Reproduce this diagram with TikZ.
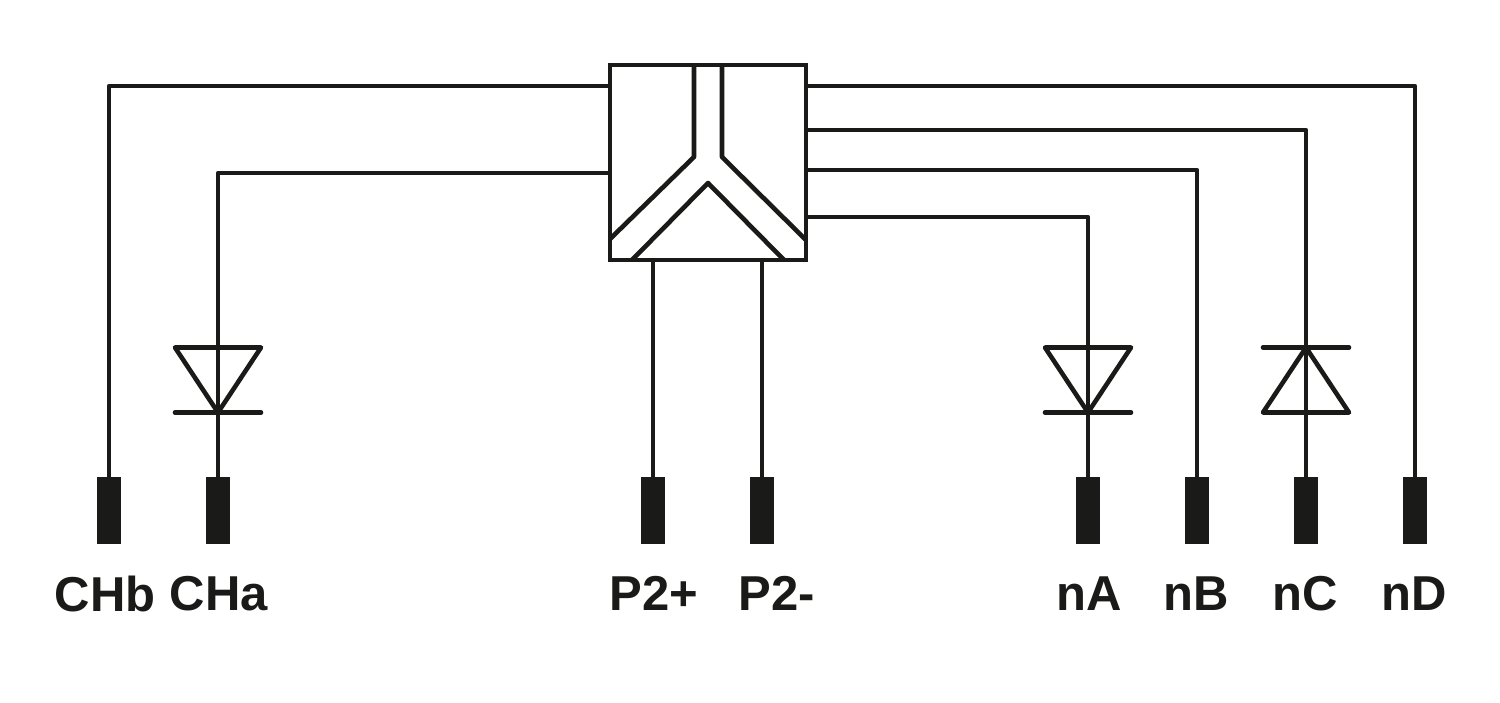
\documentclass[tikz,border=0pt]{standalone}
\usepackage{fontspec}
\setmainfont{Liberation Sans}
\usepackage{xcolor}
\usepackage{tikz}
\definecolor{inkblack}{HTML}{1A1A18}

\begin{document}
\begin{tikzpicture}[x=1pt, y=-1pt, node distance=83pt, auto]
		% Define styles with simple colors
		\tikzstyle{wire} = [line width=4.6pt, draw=inkblack, line join=round]
		\tikzstyle{symbol} = [line width=4.6pt, draw=inkblack, line join=round, line cap=round]
		\tikzstyle{coupler} = [rectangle, minimum width=196pt, minimum height=195pt, inner sep=0pt, line width=4.6pt, draw=inkblack, fill=white]
		\tikzstyle{terminal} = [rectangle, minimum width=24pt, minimum height=67pt, inner sep=0pt, fill=inkblack]
		\tikzstyle{pinlabel} = [inner sep=0pt, text=inkblack, font=\fontsize{49}{52}\selectfont\bfseries]

		\useasboundingbox (0,0) rectangle (1500,703);

		% Terminals
		\node[terminal] (chb) at (109,510.5) {};
		\node[terminal] (cha) at (218,510.5) {};
		\node[terminal] (pplus) at (653,510.5) {};
		\node[terminal] (pminus) at (762,510.5) {};
		\node[terminal] (na) at (1088,510.5) {};
		\node[terminal] (nb) at (1197,510.5) {};
		\node[terminal] (nc) at (1306,510.5) {};
		\node[terminal] (nd) at (1415,510.5) {};

		% Central block
		\node[coupler] (block) at (708,162.5) {};
		\coordinate (portchb) at (610,86);
		\coordinate (portcha) at (610,173);
		\coordinate (portnd) at (806,86);
		\coordinate (portnc) at (806,130);
		\coordinate (portnb) at (806,170);
		\coordinate (portna) at (806,217);
		\coordinate (portpplus) at (653,260);
		\coordinate (portpminus) at (762,260);

		% Arrows
		\draw[wire] (chb) |- (portchb);
		\draw[wire] (cha) |- (portcha);
		\draw[wire] (pplus) -- (portpplus);
		\draw[wire] (pminus) -- (portpminus);
		\draw[wire] (na) |- (portna);
		\draw[wire] (nb) |- (portnb);
		\draw[wire] (nc) |- (portnc);
		\draw[wire] (nd) |- (portnd);

		% Y inside the block
		\draw[wire] (694,65) -- (694,157) -- (610,239);
		\draw[wire] (722,65) -- (722,157) -- (806,240);
		\draw[wire] (632,260) -- (708,183) -- (784,260);

		% Diodes
		\draw[symbol] (175,347.5) -- (261,347.5) -- (218,412.5) -- cycle;
		\draw[symbol] (175,412.5) -- (261,412.5);
		\draw[symbol] (1045,347.5) -- (1131,347.5) -- (1088,412.5) -- cycle;
		\draw[symbol] (1045,412.5) -- (1131,412.5);
		\draw[symbol] (1263,412.5) -- (1349,412.5) -- (1306,347.5) -- cycle;
		\draw[symbol] (1263,347.5) -- (1349,347.5);

		% Labels
		\node[pinlabel, below of=chb, xshift=-4pt] {CHb};
		\node[pinlabel, below of=cha, xshift=1pt] {CHa};
		\node[pinlabel, below of=pplus, xshift=1pt] {P2+};
		\node[pinlabel, below of=pminus, xshift=15pt] {P2-};
		\node[pinlabel, below of=na, xshift=1pt] {nA};
		\node[pinlabel, below of=nb, xshift=-1pt] {nB};
		\node[pinlabel, below of=nc, xshift=-1pt] {nC};
		\node[pinlabel, below of=nd, xshift=-1pt] {nD};
	\end{tikzpicture}
\end{document}
